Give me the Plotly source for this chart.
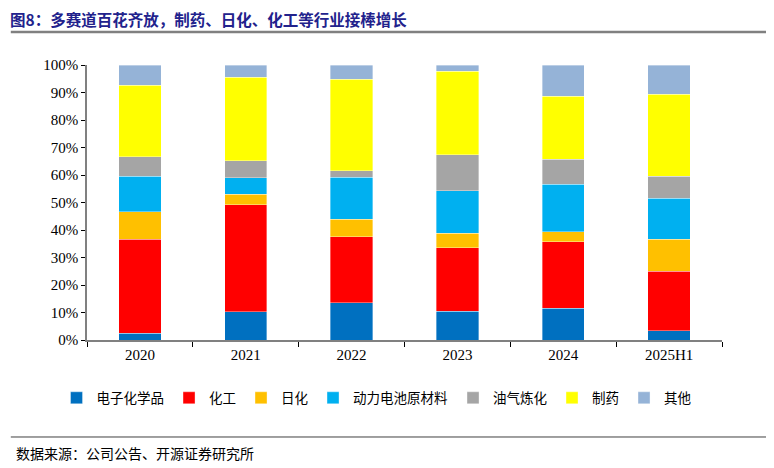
import plotly.graph_objects as go

# 年份
years = ["2020", "2021", "2022", "2023", "2024", "2025H1"]

# 各业务占比 (%)
elec_chem = [2.4, 10.3, 13.6, 10.5, 11.5, 3.4]      # 电子化学品
chem = [34.3, 38.8, 24.0, 23.1, 24.3, 21.6]          # 化工
daily = [10.0, 3.9, 6.3, 5.2, 3.5, 11.7]             # 日化
battery = [12.9, 6.0, 15.3, 15.5, 17.4, 14.9]        # 动力电池原材料
oil = [7.1, 6.1, 2.4, 13.1, 9.1, 8.0]                # 油气炼化
pharma = [26.0, 30.5, 33.3, 30.4, 22.9, 29.7]        # 制药
other = [7.3, 4.4, 5.1, 2.2, 11.3, 10.7]             # 其他

series = [
    ("电子化学品", elec_chem, "#0070C0"),
    ("化工", chem, "#FF0000"),
    ("日化", daily, "#FFC000"),
    ("动力电池原材料", battery, "#00B0F0"),
    ("油气炼化", oil, "#A5A5A5"),
    ("制药", pharma, "#FFFF00"),
    ("其他", other, "#95B3D7"),
]

serif = "Liberation Serif, Times New Roman, Noto Sans CJK SC"
cjk = "Noto Sans CJK SC, Liberation Serif"

fig = go.Figure()
for name, vals, col in series:
    fig.add_trace(go.Bar(x=years, y=vals, name=name,
                         marker=dict(color=col, line=dict(width=0.6, color="rgba(255,255,255,0.6)"))))

# page body has an 8px margin, so figure is 8px smaller and margins shifted
fig.update_layout(
    barmode="stack",
    bargap=0.6,
    width=766,
    height=460,
    margin=dict(l=79, r=52, t=57, b=128),
    plot_bgcolor="white",
    paper_bgcolor="white",
    showlegend=True,
    legend=dict(orientation="h", x=-0.048, xanchor="left", y=-0.211, yanchor="middle",
                font=dict(family=cjk, size=13.5, color="black"), itemwidth=30,
                tracegroupgap=0, traceorder="normal"),
    xaxis=dict(type="category", showline=True, linecolor="#808080", linewidth=1.5,
               ticks="outside", tickson="boundaries", ticklen=5, tickcolor="black",
               tickfont=dict(family=serif, size=15, color="black"), showgrid=False),
    yaxis=dict(range=[0, 100], dtick=10, ticksuffix="%", showline=True, linecolor="#808080",
               linewidth=1.5, ticks="outside", ticklen=4, tickcolor="black",
               tickfont=dict(family=serif, size=15, color="black"), showgrid=False),
)

fig.add_annotation(text="<b>图8：多赛道百花齐放，制药、日化、化工等行业接棒增长</b>",
                   xref="paper", yref="paper", x=-0.124, y=1.166, xanchor="left", yanchor="middle",
                   showarrow=False, font=dict(family=cjk, size=15.5, color="#22228C"))
fig.add_annotation(text="数据来源：公司公告、开源证券研究所",
                   xref="paper", yref="paper", x=-0.1148, y=-0.411, xanchor="left", yanchor="middle",
                   showarrow=False, font=dict(family=cjk, size=14, color="black"))

fig.add_shape(type="line", xref="paper", yref="paper", x0=-0.12, x1=1.074, y0=1.12, y1=1.12,
              line=dict(color="#808080", width=2.5))
fig.add_shape(type="line", xref="paper", yref="paper", x0=-0.12, x1=1.074, y0=-0.3527, y1=-0.3527,
              line=dict(color="#404040", width=1))

fig.write_html("out.html")
